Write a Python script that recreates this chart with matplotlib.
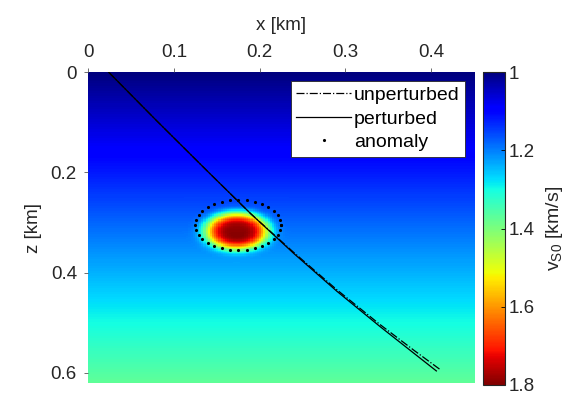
import numpy as np
import matplotlib
matplotlib.use('Agg')
from matplotlib import pyplot as plt

plt.rcParams['font.family'] = ['Liberation Sans', 'DejaVu Sans']
plt.rcParams['mathtext.fontset'] = 'custom'
plt.rcParams['mathtext.rm'] = 'Liberation Sans'
plt.rcParams['mathtext.it'] = 'Liberation Sans'

# model extent [km]
x_max = 0.45
z_max = 0.62

# background velocity (km/s) and vertical gradient (1/s)
v_top = 1.0
v_grad = 0.6

# anomaly (km, km/s)
anom_x = 0.173
anom_z = 0.317
anom_width = 0.037
anom_peak = 0.6

# outline of the anomaly drawn as dots
circ_x = 0.175
circ_z = 0.305
circ_r = 0.05
circ_n = 33

# rays
pert_x = [0.024, 0.08, 0.14, 0.19, 0.24, 0.29, 0.34, 0.38, 0.406]
pert_z = [0.0, 0.097, 0.199, 0.283, 0.362, 0.437, 0.507, 0.561, 0.596]
unpert_x = [0.024, 0.08, 0.14, 0.19, 0.24, 0.29, 0.34, 0.38, 0.411]
unpert_z = [0.0, 0.097, 0.199, 0.283, 0.360, 0.434, 0.503, 0.555, 0.594]

x_ticks = [0, 0.1, 0.2, 0.3, 0.4]
z_ticks = [0, 0.2, 0.4, 0.6]
cb_ticks = [1, 1.2, 1.4, 1.6, 1.8]

# build the velocity grid
xg = np.linspace(0, x_max, 181)
zg = np.linspace(0, z_max, 249)
X, Z = np.meshgrid(xg, zg)
R = np.hypot(X - anom_x, Z - anom_z)
V = v_top + v_grad * Z + anom_peak * np.exp(-(R / anom_width) ** 4)

fig = plt.figure(figsize=(5.81, 3.94), dpi=100)
ax = fig.add_axes([0.1515, 0.028, 0.6645, 0.789])
cax = fig.add_axes([0.831, 0.023, 0.038, 0.794])

im = ax.imshow(V, extent=[0, x_max, z_max, 0], aspect='auto', cmap='jet',
               vmin=1.0, vmax=1.8, interpolation='nearest')

ax.plot(unpert_x, unpert_z, 'k-.', linewidth=0.9, label='unperturbed')
ax.plot(pert_x, pert_z, 'k-', linewidth=0.9, label='perturbed')
t = np.linspace(0, 2 * np.pi, circ_n)
ax.plot(circ_x + circ_r * np.cos(t), circ_z + circ_r * np.sin(t), 'k.',
        markersize=2.5, label='anomaly')

ax.set_xlim(0, x_max)
ax.set_ylim(z_max, 0)
ax.xaxis.tick_top()
ax.xaxis.set_label_position('top')
ax.set_xticks(x_ticks)
ax.set_xticklabels(['0', '0.1', '0.2', '0.3', '0.4'])
ax.set_yticks(z_ticks)
ax.set_yticklabels(['0', '0.2', '0.4', '0.6'])
ax.tick_params(direction='out', length=3, width=0.6, color='#555555',
               labelsize=13.5, labelcolor='#262626', pad=5)
ax.set_xlabel('x [km]', fontsize=13.5, color='#262626', labelpad=10)
ax.set_ylabel('z [km]', fontsize=13.5, color='#262626', labelpad=6)
for s in ax.spines.values():
    s.set_visible(False)

leg = ax.legend(loc='upper right', fontsize=14, frameon=True, fancybox=False,
                handlelength=2.8, handletextpad=0.15, borderpad=0.3,
                labelspacing=0.3, borderaxespad=0.45, markerscale=1.0)
leg.get_frame().set_edgecolor('#262626')
leg.get_frame().set_linewidth(0.6)
leg.get_frame().set_alpha(1)

cb = fig.colorbar(im, cax=cax, ticks=cb_ticks)
cb.ax.invert_yaxis()
cb.ax.set_yticklabels(['1', '1.2', '1.4', '1.6', '1.8'])
cb.ax.tick_params(direction='in', length=3, width=0.6, labelsize=13.5,
                  labelcolor='#262626', pad=3)
cb.outline.set_edgecolor('#262626')
cb.outline.set_linewidth(0.8)
cb.set_label(r'v$_{\rm S0}$ [km/s]', fontsize=14, color='#262626', labelpad=6)

fig.savefig('out.png', dpi=100)
